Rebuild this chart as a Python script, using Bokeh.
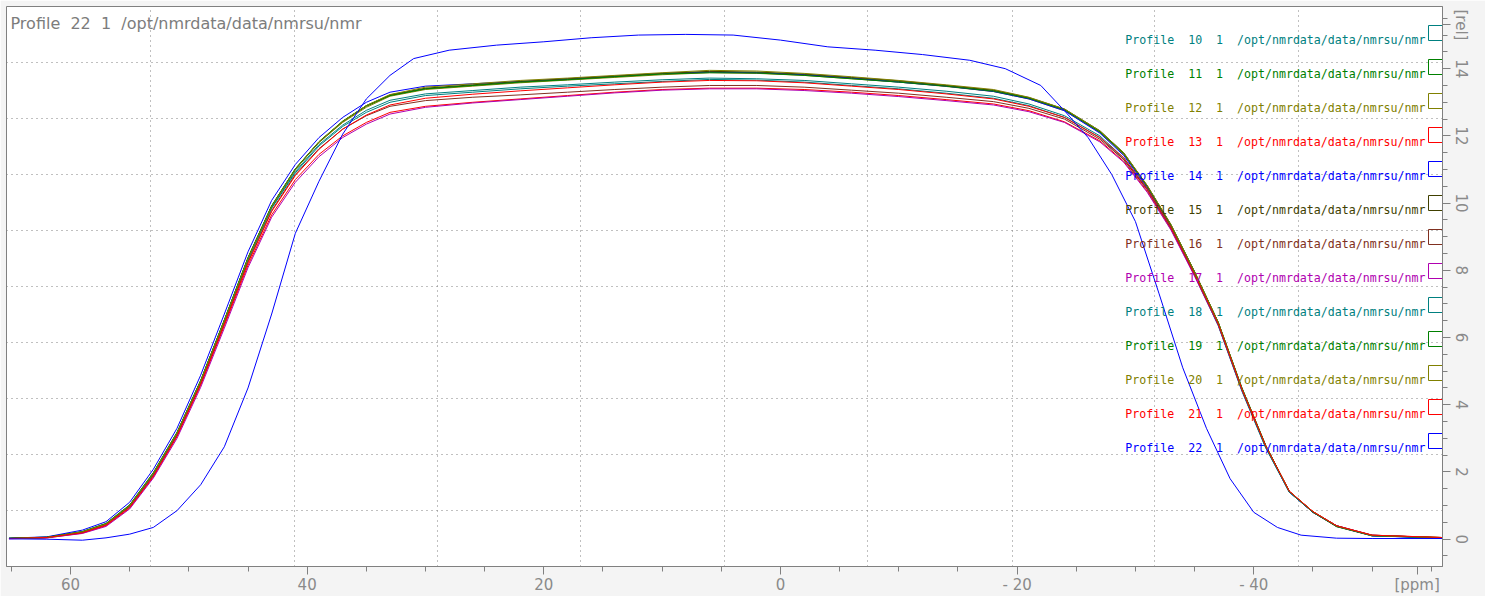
import math
from bokeh.plotting import figure
from bokeh.models import Range1d, FixedTicker, Label, ColumnDataSource
from bokeh.embed import file_html
from bokeh.resources import INLINE
from bokeh.core.properties import value

# ---------------- data ----------------
PPM = [65.2, 62, 59, 57, 55, 53, 51, 49, 47, 45, 43, 41, 39, 37, 35, 33, 30, 26, 22, 18,
       14, 10, 6, 2, -2, -6, -10, -14, -18, -21, -24, -27, -29, -31, -33, -35, -37, -39,
       -41, -43, -45, -47, -50, -55.9]

P10 = [0.02, 0.05, 0.2, 0.44, 0.98, 1.92, 3.1, 4.65, 6.45, 8.3, 9.85, 10.9, 11.7, 12.28, 12.7, 13.0, 13.2, 13.3, 13.4, 13.48, 13.55, 13.62, 13.68, 13.66, 13.6, 13.5, 13.4, 13.27, 13.12, 12.9, 12.55, 11.95, 11.3, 10.4, 9.25, 7.85, 6.35, 4.4, 2.72, 1.4, 0.8, 0.4, 0.1, 0.04]
P11 = [0.03, 0.06, 0.23, 0.47, 1.02, 1.98, 3.18, 4.72, 6.52, 8.38, 9.92, 11.02, 11.82, 12.42, 12.88, 13.2, 13.4, 13.5, 13.6, 13.68, 13.76, 13.85, 13.9, 13.88, 13.82, 13.72, 13.62, 13.5, 13.35, 13.12, 12.78, 12.12, 11.48, 10.5, 9.35, 7.95, 6.45, 4.5, 2.8, 1.42, 0.82, 0.38, 0.12, 0.04]
P12 = [0.02, 0.05, 0.22, 0.46, 1.0, 1.95, 3.15, 4.7, 6.5, 8.35, 9.9, 11.0, 11.8, 12.4, 12.85, 13.18, 13.38, 13.48, 13.58, 13.66, 13.74, 13.82, 13.88, 13.86, 13.8, 13.7, 13.6, 13.47, 13.32, 13.1, 12.75, 12.1, 11.45, 10.48, 9.32, 7.92, 6.42, 4.47, 2.77, 1.42, 0.8, 0.37, 0.1, 0.05]
P13 = [0.02, 0.04, 0.18, 0.4, 0.92, 1.85, 3.05, 4.58, 6.35, 8.15, 9.65, 10.7, 11.45, 12.0, 12.4, 12.7, 12.88, 13.0, 13.1, 13.2, 13.3, 13.38, 13.42, 13.42, 13.38, 13.3, 13.2, 13.08, 12.95, 12.75, 12.42, 11.85, 11.25, 10.35, 9.22, 7.85, 6.38, 4.45, 2.78, 1.43, 0.82, 0.4, 0.12, 0.05]
P14 = [0.03, 0.07, 0.27, 0.52, 1.1, 2.08, 3.3, 4.88, 6.7, 8.55, 10.08, 11.15, 11.95, 12.55, 13.0, 13.3, 13.48, 13.55, 13.62, 13.7, 13.78, 13.86, 13.9, 13.88, 13.82, 13.72, 13.6, 13.48, 13.32, 13.1, 12.75, 12.08, 11.42, 10.45, 9.3, 7.9, 6.4, 4.45, 2.75, 1.4, 0.8, 0.38, 0.1, 0.03]
P15 = [0.02, 0.05, 0.21, 0.45, 1.0, 1.96, 3.16, 4.71, 6.51, 8.36, 9.9, 11.0, 11.82, 12.43, 12.9, 13.22, 13.42, 13.52, 13.62, 13.7, 13.78, 13.86, 13.92, 13.9, 13.84, 13.74, 13.64, 13.5, 13.36, 13.14, 12.8, 12.15, 11.5, 10.52, 9.36, 7.96, 6.45, 4.5, 2.8, 1.42, 0.8, 0.39, 0.11, 0.04]
P16 = [0.02, 0.05, 0.2, 0.43, 0.96, 1.9, 3.1, 4.63, 6.42, 8.25, 9.78, 10.85, 11.62, 12.2, 12.6, 12.88, 13.05, 13.15, 13.22, 13.3, 13.38, 13.45, 13.5, 13.5, 13.45, 13.36, 13.27, 13.15, 13.02, 12.82, 12.5, 11.9, 11.3, 10.4, 9.26, 7.88, 6.4, 4.45, 2.76, 1.42, 0.82, 0.4, 0.11, 0.05]
P17 = [0.01, 0.04, 0.17, 0.38, 0.9, 1.82, 3.0, 4.52, 6.28, 8.08, 9.58, 10.62, 11.38, 11.95, 12.35, 12.65, 12.85, 12.98, 13.08, 13.18, 13.28, 13.36, 13.4, 13.4, 13.35, 13.27, 13.17, 13.05, 12.92, 12.72, 12.4, 11.82, 11.22, 10.32, 9.2, 7.82, 6.36, 4.42, 2.76, 1.42, 0.81, 0.4, 0.12, 0.04]
P18 = [0.02, 0.05, 0.21, 0.45, 0.99, 1.94, 3.13, 4.68, 6.48, 8.32, 9.86, 10.94, 11.74, 12.32, 12.76, 13.06, 13.25, 13.35, 13.45, 13.52, 13.6, 13.67, 13.72, 13.7, 13.65, 13.55, 13.45, 13.33, 13.18, 12.95, 12.6, 12.0, 11.35, 10.42, 9.28, 7.88, 6.38, 4.43, 2.74, 1.4, 0.8, 0.39, 0.1, 0.04]
P19 = [0.03, 0.06, 0.22, 0.46, 1.01, 1.97, 3.17, 4.72, 6.52, 8.37, 9.92, 11.02, 11.83, 12.44, 12.9, 13.2, 13.4, 13.5, 13.6, 13.67, 13.76, 13.84, 13.88, 13.87, 13.8, 13.7, 13.6, 13.48, 13.33, 13.12, 12.78, 12.12, 11.48, 10.5, 9.34, 7.94, 6.44, 4.48, 2.78, 1.42, 0.81, 0.38, 0.11, 0.04]
P20 = [0.02, 0.05, 0.22, 0.45, 1.0, 1.96, 3.16, 4.7, 6.5, 8.35, 9.9, 11.0, 11.82, 12.43, 12.9, 13.23, 13.45, 13.55, 13.65, 13.72, 13.8, 13.88, 13.95, 13.93, 13.86, 13.76, 13.65, 13.52, 13.38, 13.15, 12.8, 12.15, 11.5, 10.52, 9.36, 7.95, 6.45, 4.48, 2.78, 1.42, 0.82, 0.39, 0.11, 0.05]
P21 = [0.02, 0.05, 0.19, 0.42, 0.95, 1.88, 3.08, 4.62, 6.4, 8.22, 9.75, 10.82, 11.6, 12.2, 12.62, 12.92, 13.12, 13.24, 13.34, 13.43, 13.52, 13.6, 13.65, 13.64, 13.58, 13.48, 13.38, 13.25, 13.1, 12.88, 12.55, 11.95, 11.35, 10.42, 9.28, 7.88, 6.4, 4.46, 2.78, 1.43, 0.82, 0.4, 0.12, 0.05]

PPM22 = [65.2, 62, 59, 57, 55, 53, 51, 49, 47, 45, 43, 41, 39, 37, 35, 33, 31, 28, 24, 20, 16,
         12, 8, 4, 0, -4, -8, -12, -16, -19, -22, -24, -26, -28, -30, -32, -34, -36, -38,
         -40, -42, -44, -47, -50, -55.9]
P22 = [0.01, 0.0, -0.03, 0.04, 0.15, 0.35, 0.85, 1.62, 2.75, 4.5, 6.7, 9.1, 10.65, 12.05, 13.1, 13.8, 14.3, 14.55, 14.7, 14.8, 14.92,
       15.0, 15.02, 15.0, 14.85, 14.65, 14.55, 14.42, 14.25, 14.0, 13.5, 12.75, 11.95, 10.85, 9.45, 7.3, 5.1, 3.3, 1.8,
       0.8, 0.35, 0.12, 0.03, 0.02, 0.02]

PROFILES = [10, 11, 12, 13, 14, 15, 16, 17, 18, 19, 20, 21, 22]
SERIES = [P10, P11, P12, P13, P14, P15, P16, P17, P18, P19, P20, P21, P22]
XS = [PPM] * 12 + [PPM22]
COLORS = ["#008080", "#008000", "#808000", "#ff0000", "#0000ff", "#404000", "#803020",
          "#b000b0", "#008080", "#008000", "#808000", "#ff0000", "#0000ff"]
PATH = "/opt/nmrdata/data/nmrsu/nmr"
SP = " \u00a0"  # double space that survives SVG whitespace collapsing
TITLE = "Profile" + SP + "22" + SP + "1" + SP + PATH

X_TICKS = [60, 40, 20, 0, -20, -40]
X_MINOR = [65, 60, 55, 50, 45, 40, 35, 30, 25, 20, 15, 10, 5, 0, -5, -10, -15, -20, -25, -30, -35, -40, -45, -50, -55]
X_UNIT_POS, X_UNIT = -53.8, "[ppm]"
X_LABELS = {-20: "- 20", -40: "- 40", X_UNIT_POS: X_UNIT}
Y_TICKS = [0, 2, 4, 6, 8, 10, 12, 14]
Y_MINOR = [-0.5, 0, 0.5, 1, 1.5, 2, 2.5, 3, 3.5, 4, 4.5, 5, 5.5, 6, 6.5, 7, 7.5, 8, 8.5, 9, 9.5, 10, 10.5,
           11, 11.5, 12, 12.5, 13, 13.5, 14, 14.5, 15, 15.5]
Y_UNIT_POS, Y_UNIT = 15.3, "[rel]"

# ---------------- layout helpers (page pixels -> data) ----------------
GRAY = "#808080"
TXT_GRAY = "#8a8a8a"
W, H = 1485, 596
FL, FT, FR, FB = 6, 6, 1442, 566          # frame in page px
X_LEFT, X_RIGHT = 65.41, -55.95
Y_TOP, Y_BOT = 15.85, -0.8125

def px_x(px):
    return X_LEFT + (px - FL) / (FR - FL) * (X_RIGHT - X_LEFT)

def py_y(py):
    return Y_TOP + (py - FT) / (FB - FT) * (Y_BOT - Y_TOP)

GRID_X = [px_x(v) for v in (150, 294, 437, 580, 724, 867, 1012, 1154, 1298)]
GRID_Y = [py_y(v) for v in (62, 118, 174, 230, 286, 342, 398, 454, 510)]

p = figure(width=W, height=H, x_range=Range1d(X_LEFT, X_RIGHT), y_range=Range1d(Y_BOT, Y_TOP),
           output_backend="svg", toolbar_location=None, y_axis_location="right",
           min_border_left=FL, min_border_top=FT, min_border_right=W - FR, min_border_bottom=H - FB)
p.background_fill_color = "white"
p.border_fill_color = "#f4f4f4"
p.outline_line_color = GRAY
p.outline_line_width = 1

p.xaxis.ticker = FixedTicker(ticks=X_TICKS + [X_UNIT_POS], minor_ticks=X_MINOR)
p.yaxis.ticker = FixedTicker(ticks=Y_TICKS + [Y_UNIT_POS], minor_ticks=Y_MINOR)
p.xaxis.major_label_overrides = X_LABELS
p.yaxis.major_label_overrides = {Y_UNIT_POS: Y_UNIT}
for ax in (p.xaxis[0], p.yaxis[0]):
    ax.axis_line_color = GRAY
    ax.major_tick_line_color = GRAY
    ax.minor_tick_line_color = GRAY
    ax.major_tick_in = 0
    ax.major_tick_out = 8
    ax.minor_tick_in = 0
    ax.minor_tick_out = 5
    ax.major_label_text_color = TXT_GRAY
    ax.major_label_text_font = "DejaVu Sans"
    ax.major_label_text_font_size = "15px"
    ax.major_label_standoff = 1
p.yaxis.major_label_orientation = "vertical"

p.xgrid.ticker = FixedTicker(ticks=GRID_X)
p.ygrid.ticker = FixedTicker(ticks=GRID_Y)
p.grid.grid_line_color = GRAY
p.grid.grid_line_dash = "1 4"
p.grid.grid_line_width = 1

for xs, ys, c in zip(XS, SERIES, COLORS):
    p.line(xs, ys, line_color=c, line_width=1)

# title
p.add_layout(Label(x=px_x(10), y=py_y(23), text=TITLE, text_color="#7c7c7c",
                   text_font="DejaVu Sans", text_font_size="16px", text_baseline="alphabetic"))

# legend (text + open boxes)
leg = ColumnDataSource(dict(
    x=[px_x(1425)] * len(PROFILES),
    y=[py_y(39.5 + 34 * i) for i in range(len(PROFILES))],
    l=[px_x(1428)] * len(PROFILES),
    r=[px_x(1446)] * len(PROFILES),
    t=[py_y(25 + 34 * i) for i in range(len(PROFILES))],
    b=[py_y(40 + 34 * i) for i in range(len(PROFILES))],
    txt=["Profile" + SP + str(n) + SP + "1" + SP + PATH for n in PROFILES],
    c=COLORS,
))
p.text(x="x", y="y", text="txt", text_color="c", source=leg, text_align="right",
       text_baseline="alphabetic", text_font=value("DejaVu Sans Mono"), text_font_size="11.6px")
p.quad(left="l", right="r", top="t", bottom="b", source=leg, fill_color=None, line_color="c", line_width=1)

open("out.html", "w").write(file_html(p, INLINE))
